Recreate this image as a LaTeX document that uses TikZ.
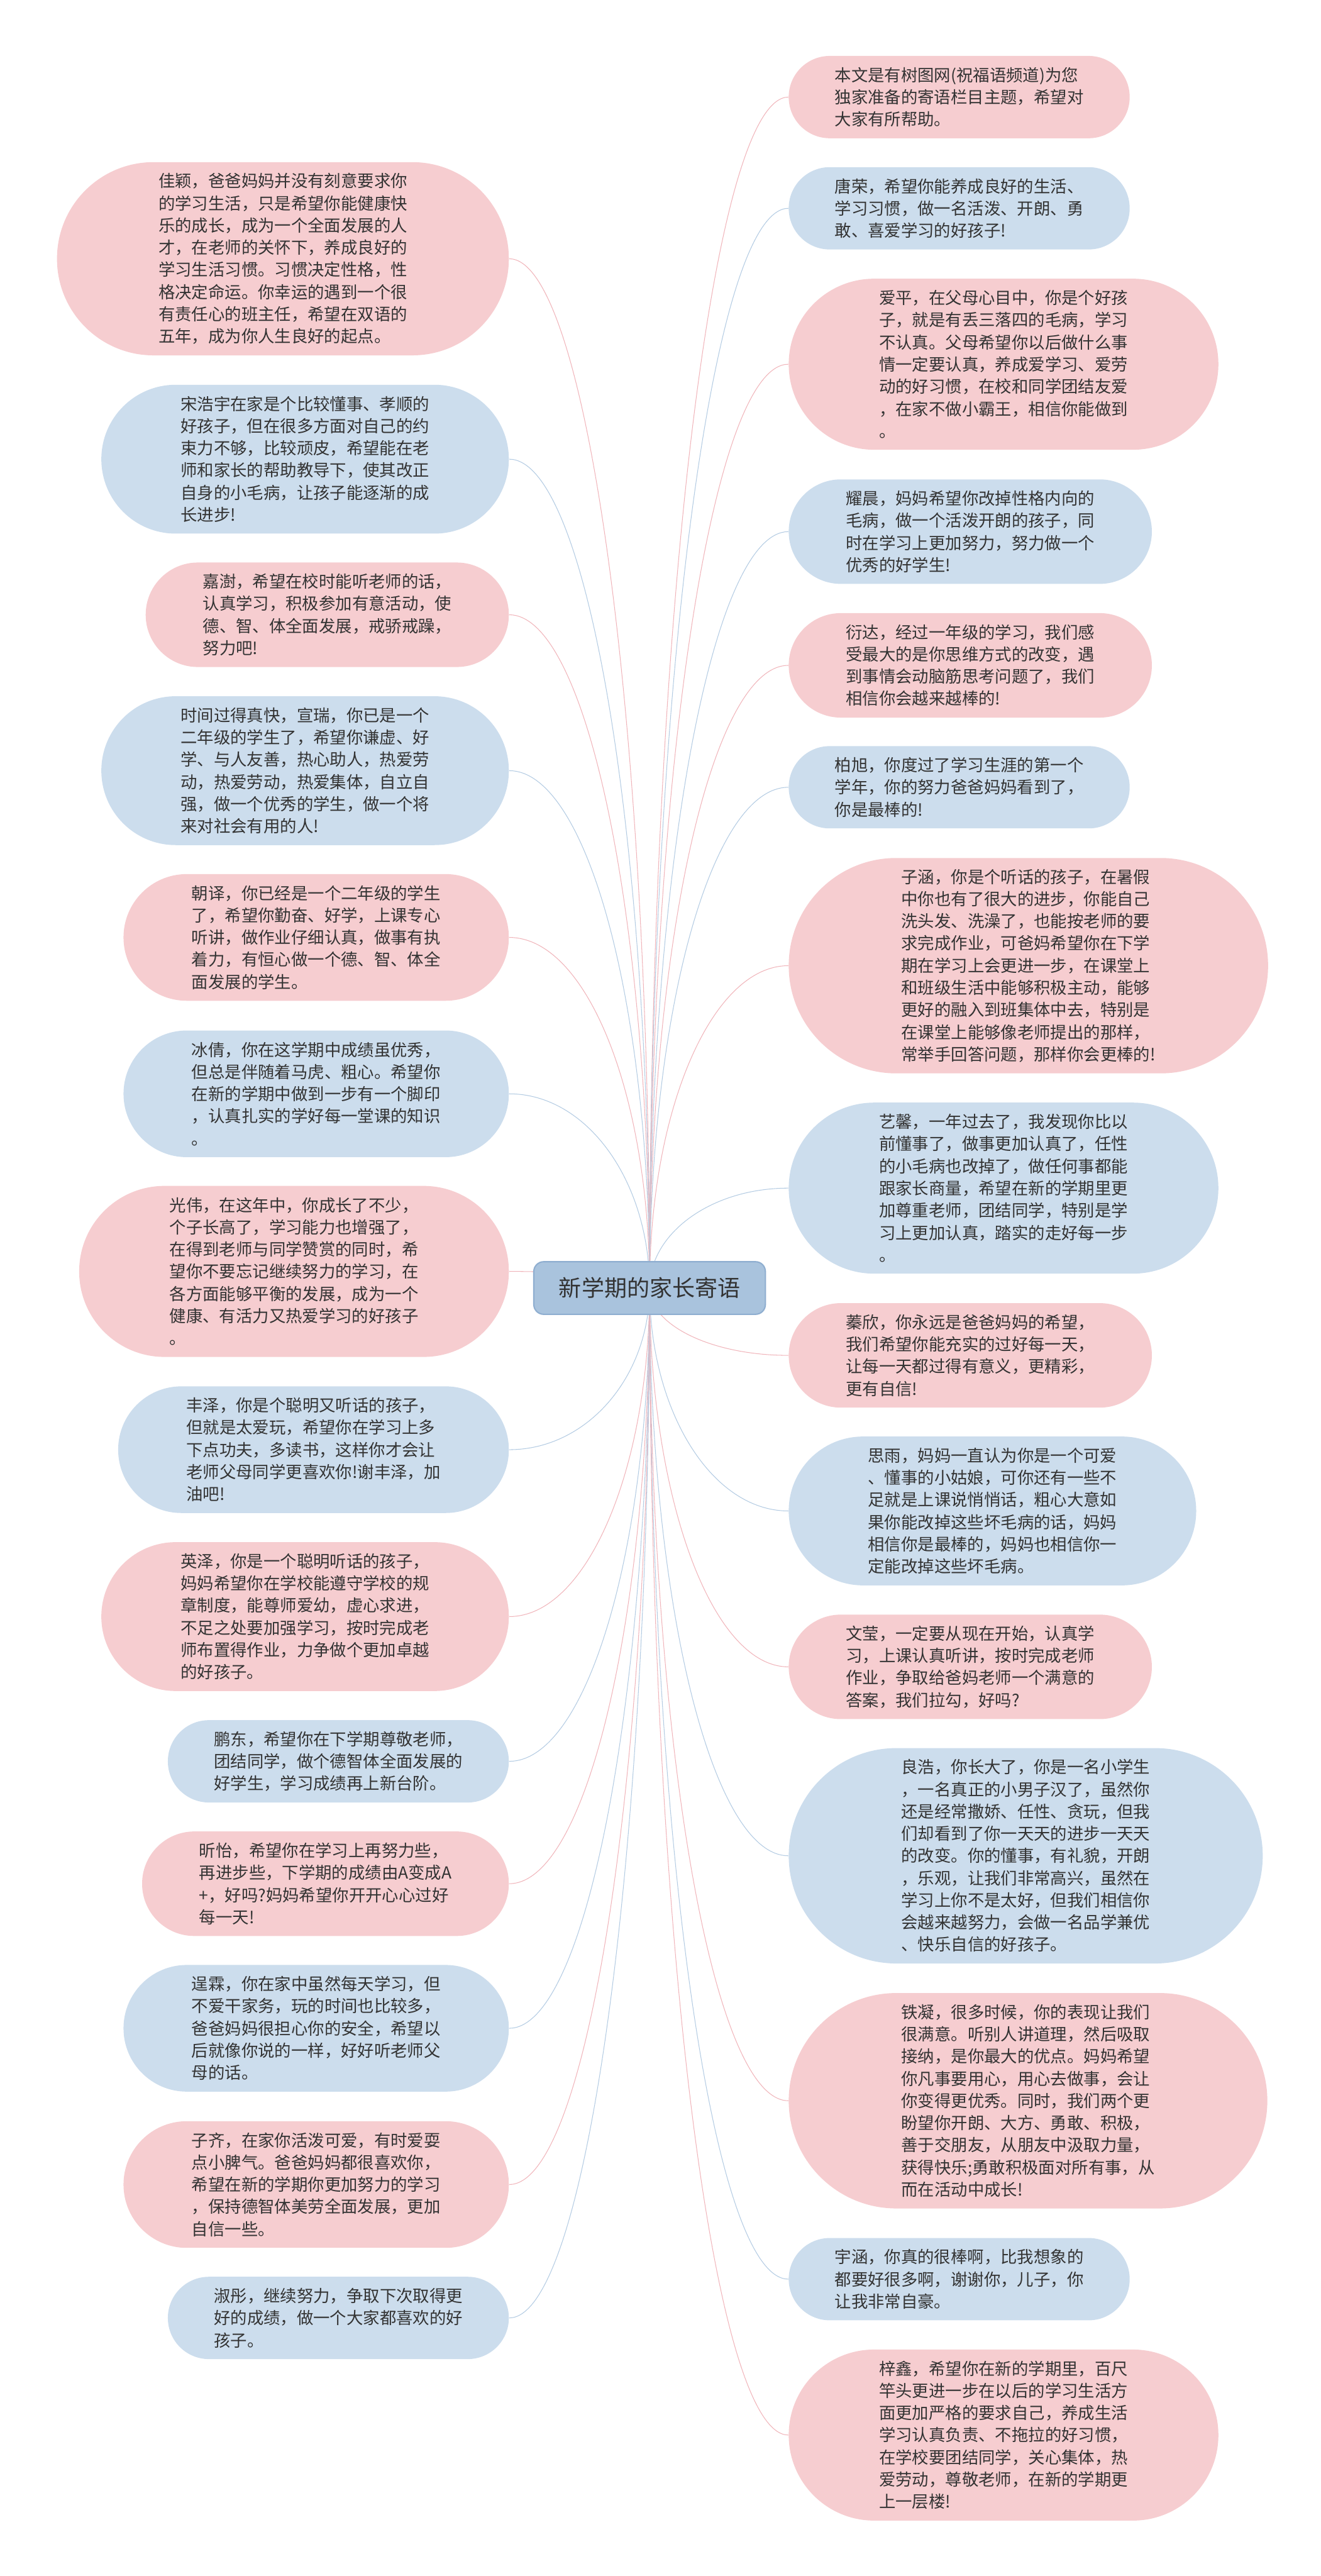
\documentclass[tikz,border=0pt]{standalone}
\usepackage{fontspec}
\setmainfont{Noto Sans CJK SC}
\usetikzlibrary{calc, backgrounds}
\definecolor{pinkfill}{HTML}{F6CDD0}
\definecolor{bluefill}{HTML}{CCDDED}
\definecolor{pinkedge}{HTML}{F0B4BA}
\definecolor{blueedge}{HTML}{B3CBE2}
\definecolor{rootfill}{HTML}{A9C3DD}
\definecolor{rootedge}{HTML}{8FAED0}
\definecolor{inkgray}{HTML}{333333}

\begin{document}
\begin{tikzpicture}[x=1pt, y=1pt,
    % #1 = number of text lines; height and end caps follow from it
    bubble/.style={rectangle, align=left, text=inkgray, font=\fontsize{10.1}{13.5}\selectfont,
      minimum height={(13.5*#1+9.6)*1pt}, inner ysep=2pt,
      inner xsep={(3+0.5*(13.5*#1+9.6))*1pt},
      rounded corners={0.5*(13.5*#1+9.6)*1pt-0.05pt}},
    pinkbox/.style={bubble=#1, fill=pinkfill},
    bluebox/.style={bubble=#1, fill=bluefill},
    rootbox/.style={rounded corners=6pt, fill=rootfill, draw=rootedge, line width=0.8pt,
      minimum width=141pt, minimum height=32pt, text=inkgray,
      font=\fontsize{13.8}{16}\selectfont}]

    \useasboundingbox (0,0) rectangle (804,-1568);

    % 1. The central topic
    \node[rootbox] (root) at (395.5,-784) {新学期的家长寄语};

    % 2. Left column (right edges lined up)
    \node[pinkbox=8, anchor=east] (jiaying) at (310,-157.5) {佳颖，爸爸妈妈并没有刻意要求你\\的学习生活，只是希望你能健康快\\乐的成长，成为一个全面发展的人\\才，在老师的关怀下，养成良好的\\学习生活习惯。习惯决定性格，性\\格决定命运。你幸运的遇到一个很\\有责任心的班主任，希望在双语的\\五年，成为你人生良好的起点。};
    \node[bluebox=6, anchor=east] (songhaoyu) at (310,-279.5) {宋浩宇在家是个比较懂事、孝顺的\\好孩子，但在很多方面对自己的约\\束力不够，比较顽皮，希望能在老\\师和家长的帮助教导下，使其改正\\自身的小毛病，让孩子能逐渐的成\\长进步!};
    \node[pinkbox=4, anchor=east] (jiashu) at (310,-374.2) {嘉澍，希望在校时能听老师的话，\\认真学习，积极参加有意活动，使\\德、智、体全面发展，戒骄戒躁，\\努力吧!};
    \node[bluebox=6, anchor=east] (xuanrui) at (310,-469.1) {时间过得真快，宣瑞，你已是一个\\二年级的学生了，希望你谦虚、好\\学、与人友善，热心助人，热爱劳\\动，热爱劳动，热爱集体，自立自\\强，做一个优秀的学生，做一个将\\来对社会有用的人!};
    \node[pinkbox=5, anchor=east] (chaoyi) at (310,-570.6) {朝译，你已经是一个二年级的学生\\了，希望你勤奋、好学，上课专心\\听讲，做作业仔细认真，做事有执\\着力，有恒心做一个德、智、体全\\面发展的学生。};
    \node[bluebox=5, anchor=east] (bingqian) at (310,-665.8) {冰倩，你在这学期中成绩虽优秀，\\但总是伴随着马虎、粗心。希望你\\在新的学期中做到一步有一个脚印\\，认真扎实的学好每一堂课的知识\\。};
    \node[pinkbox=7, anchor=east] (guangwei) at (310,-773.9) {光伟，在这年中，你成长了不少，\\个子长高了，学习能力也增强了，\\在得到老师与同学赞赏的同时，希\\望你不要忘记继续努力的学习，在\\各方面能够平衡的发展，成为一个\\健康、有活力又热爱学习的好孩子\\。};
    \node[bluebox=5, anchor=east] (fengze) at (310,-882.4) {丰泽，你是个聪明又听话的孩子，\\但就是太爱玩，希望你在学习上多\\下点功夫，多读书，这样你才会让\\老师父母同学更喜欢你!谢丰泽，加\\油吧!};
    \node[pinkbox=6, anchor=east] (yingze) at (310,-984) {英泽，你是一个聪明听话的孩子，\\妈妈希望你在学校能遵守学校的规\\章制度，能尊师爱幼，虚心求进，\\不足之处要加强学习，按时完成老\\师布置得作业，力争做个更加卓越\\的好孩子。};
    \node[bluebox=3, anchor=east] (pengdong) at (310,-1072.1) {鹏东，希望你在下学期尊敬老师，\\团结同学，做个德智体全面发展的\\好学生，学习成绩再上新台阶。};
    \node[pinkbox=4, anchor=east] (xinyi) at (310,-1146.6) {昕怡，希望你在学习上再努力些，\\再进步些，下学期的成绩由A变成A\\+，好吗?妈妈希望你开开心心过好\\每一天!};
    \node[bluebox=5, anchor=east] (chenglin) at (310,-1234.6) {逞霖，你在家中虽然每天学习，但\\不爱干家务，玩的时间也比较多，\\爸爸妈妈很担心你的安全，希望以\\后就像你说的一样，好好听老师父\\母的话。};
    \node[pinkbox=5, anchor=east] (ziqi) at (310,-1329.7) {子齐，在家你活泼可爱，有时爱耍\\点小脾气。爸爸妈妈都很喜欢你，\\希望在新的学期你更加努力的学习\\，保持德智体美劳全面发展，更加\\自信一些。};
    \node[bluebox=3, anchor=east] (shutong) at (310,-1410.9) {淑彤，继续努力，争取下次取得更\\好的成绩，做一个大家都喜欢的好\\孩子。};

    % 3. Right column (left edges lined up)
    \node[pinkbox=3, anchor=west] (intro) at (480,-59.1) {本文是有树图网(祝福语频道)为您\\独家准备的寄语栏目主题，希望对\\大家有所帮助。};
    \node[bluebox=3, anchor=west] (tangrong) at (480,-126.8) {唐荣，希望你能养成良好的生活、\\学习习惯，做一名活泼、开朗、勇\\敢、喜爱学习的好孩子!};
    \node[pinkbox=7, anchor=west] (aiping) at (480,-221.7) {爱平，在父母心目中，你是个好孩\\子，就是有丢三落四的毛病，学习\\不认真。父母希望你以后做什么事\\情一定要认真，养成爱学习、爱劳\\动的好习惯，在校和同学团结友爱\\，在家不做小霸王，相信你能做到\\。};
    \node[bluebox=4, anchor=west] (yaochen) at (480,-323.6) {耀晨，妈妈希望你改掉性格内向的\\毛病，做一个活泼开朗的孩子，同\\时在学习上更加努力，努力做一个\\优秀的好学生!};
    \node[pinkbox=4, anchor=west] (yanda) at (480,-405) {衍达，经过一年级的学习，我们感\\受最大的是你思维方式的改变，遇\\到事情会动脑筋思考问题了，我们\\相信你会越来越棒的!};
    \node[bluebox=3, anchor=west] (baixu) at (480,-479.2) {柏旭，你度过了学习生涯的第一个\\学年，你的努力爸爸妈妈看到了，\\你是最棒的!};
    \node[pinkbox=9, anchor=west] (zihan) at (480,-587.8) {子涵，你是个听话的孩子，在暑假\\中你也有了很大的进步，你能自己\\洗头发、洗澡了，也能按老师的要\\求完成作业，可爸妈希望你在下学\\期在学习上会更进一步，在课堂上\\和班级生活中能够积极主动，能够\\更好的融入到班集体中去，特别是\\在课堂上能够像老师提出的那样，\\常举手回答问题，那样你会更棒的!};
    \node[bluebox=7, anchor=west] (yixin) at (480,-723.2) {艺馨，一年过去了，我发现你比以\\前懂事了，做事更加认真了，任性\\的小毛病也改掉了，做任何事都能\\跟家长商量，希望在新的学期里更\\加尊重老师，团结同学，特别是学\\习上更加认真，踏实的走好每一步\\。};
    \node[pinkbox=4, anchor=west] (zhenxin) at (480,-825) {蓁欣，你永远是爸爸妈妈的希望，\\我们希望你能充实的过好每一天，\\让每一天都过得有意义，更精彩，\\更有自信!};
    \node[bluebox=6, anchor=west] (siyu) at (480,-919.7) {思雨，妈妈一直认为你是一个可爱\\、懂事的小姑娘，可你还有一些不\\足就是上课说悄悄话，粗心大意如\\果你能改掉这些坏毛病的话，妈妈\\相信你是最棒的，妈妈也相信你一\\定能改掉这些坏毛病。};
    \node[pinkbox=4, anchor=west] (wenying) at (480,-1014.6) {文莹，一定要从现在开始，认真学\\习，上课认真听讲，按时完成老师\\作业，争取给爸妈老师一个满意的\\答案，我们拉勾，好吗?};
    \node[bluebox=9, anchor=west] (lianghao) at (480,-1129.6) {良浩，你长大了，你是一名小学生\\，一名真正的小男子汉了，虽然你\\还是经常撒娇、任性、贪玩，但我\\们却看到了你一天天的进步一天天\\的改变。你的懂事，有礼貌，开朗\\，乐观，让我们非常高兴，虽然在\\学习上你不是太好，但我们相信你\\会越来越努力，会做一名品学兼优\\、快乐自信的好孩子。};
    \node[pinkbox=9, anchor=west] (tiening) at (480,-1278.7) {铁凝，很多时候，你的表现让我们\\很满意。听别人讲道理，然后吸取\\接纳，是你最大的优点。妈妈希望\\你凡事要用心，用心去做事，会让\\你变得更优秀。同时，我们两个更\\盼望你开朗、大方、勇敢、积极，\\善于交朋友，从朋友中汲取力量，\\获得快乐;勇敢积极面对所有事，从\\而在活动中成长!};
    \node[bluebox=3, anchor=west] (yuhan) at (480,-1387.3) {宇涵，你真的很棒啊，比我想象的\\都要好很多啊，谢谢你，儿子，你\\让我非常自豪。};
    \node[pinkbox=7, anchor=west] (zixin) at (480,-1482.2) {梓鑫，希望你在新的学期里，百尺\\竿头更进一步在以后的学习生活方\\面更加严格的要求自己，养成生活\\学习认真负责、不拖拉的好习惯，\\在学校要团结同学，关心集体，热\\爱劳动，尊敬老师，在新的学期更\\上一层楼!};

    % 4. Quarter-ellipse connectors from the centre of the topic
    \begin{scope}[on background layer, line width=0.9pt]
        \foreach \n/\c in {jiaying/pinkedge, songhaoyu/blueedge, jiashu/pinkedge, xuanrui/blueedge,
            chaoyi/pinkedge, bingqian/blueedge, guangwei/pinkedge, fengze/blueedge, yingze/pinkedge,
            pengdong/blueedge, xinyi/pinkedge, chenglin/blueedge, ziqi/pinkedge, shutong/blueedge}
            \draw[draw=\c] (root.center) .. controls ($(root.center)!0.552!(root.center|-\n.east)$)
                and ($(\n.east)!0.552!(root.center|-\n.east)$) .. (\n.east);
        \foreach \n/\c in {intro/pinkedge, tangrong/blueedge, aiping/pinkedge, yaochen/blueedge,
            yanda/pinkedge, baixu/blueedge, zihan/pinkedge, yixin/blueedge, zhenxin/pinkedge,
            siyu/blueedge, wenying/pinkedge, lianghao/blueedge, tiening/pinkedge, yuhan/blueedge,
            zixin/pinkedge}
            \draw[draw=\c] (root.center) .. controls ($(root.center)!0.552!(root.center|-\n.west)$)
                and ($(\n.west)!0.552!(root.center|-\n.west)$) .. (\n.west);
    \end{scope}

\end{tikzpicture}
\end{document}
